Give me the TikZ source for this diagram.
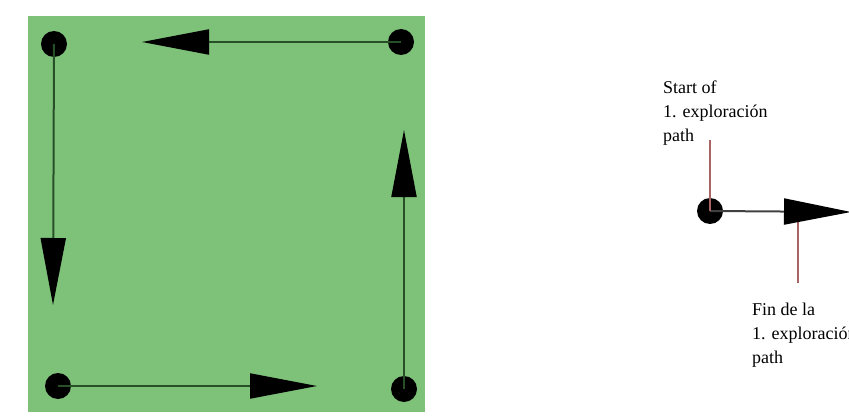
\documentclass[tikz,border=0pt]{standalone}
\usepackage{fontspec}
\setmainfont{Liberation Serif}
\usetikzlibrary{arrows.meta}
\definecolor{fieldgreen}{RGB}{126,194,122}
\definecolor{pathline}{RGB}{40,80,40}
\definecolor{leader}{RGB}{170,100,100}
\tikzset{
  dotnode/.style={circle,fill=black,inner sep=0pt,minimum size=26pt},
  pathconn/.style={draw=pathline,line width=2pt,-{Triangle[length=67pt,width=25pt,color=black]}},
  pathconnb/.style={draw=black!75,line width=2pt,-{Triangle[length=67pt,width=26pt,color=black]}},
  leaderline/.style={draw=leader,line width=2pt},
  labeltext/.style={anchor=north west,inner sep=0pt,align=left,font=\fontsize{18}{24}\selectfont}
}
\begin{document}
\begin{tikzpicture}[x=1pt,y=-1pt]
\useasboundingbox (0,0) rectangle (849,417);
\fill[fieldgreen] (28,16) rectangle (425,412);
% corner dots
\node[dotnode] (tl) at (54,44) {};
\node[dotnode] (tr) at (401,42) {};
\node[dotnode] (bl) at (58,386) {};
\node[dotnode] (br) at (404,389) {};
% arrow tips
\coordinate (tipT) at (142,42);
\coordinate (tipL) at (53,305);
\coordinate (tipB) at (317,386);
\coordinate (tipR) at (404,130);
\draw[pathconn] (tr.center) -- (tipT);
\draw[pathconn] (tl.center) -- (tipL);
\draw[pathconn] (bl.center) -- (tipB);
\draw[pathconn] (br.center) -- (tipR);
% legend
\node[labeltext] (startlbl) at (663,80.7) {Start of\\1. exploración\\path};
\node[labeltext] (finlbl) at (752,302.7) {Fin de la\\1. exploración\\path};
\coordinate (startend) at (710,140);
\coordinate (finend) at (798,283);
\coordinate (tipS) at (851,212);
\coordinate (basS) at (798,212);
\draw[leaderline] (basS) -- (finend);
\node[dotnode] (sdot) at (710,211) {};
\draw[pathconnb] (sdot.center) -- (tipS);
\draw[leaderline] (sdot.center) -- (startend);
\end{tikzpicture}
\end{document}
